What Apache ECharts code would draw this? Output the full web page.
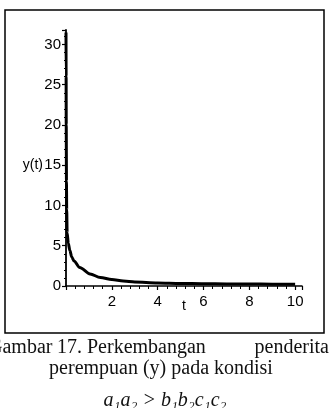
<!DOCTYPE html>
<html>
<head>
<meta charset="utf-8">
<script src="https://cdn.jsdelivr.net/npm/echarts@6/dist/echarts.min.js"></script>
<style>
html,body{margin:0;padding:0;background:#fff;}
#c{width:329px;height:408px;}
</style>
</head>
<body>
<div id="c"></div>
<script>
// Data
var tValues = [0, 0.005, 0.01, 0.02, 0.03, 0.05, 0.1, 0.17, 0.25, 0.35, 0.6, 1.05, 1.5, 2, 2.5, 3, 4, 5, 6, 7, 8, 9, 10];
var yValues = [31.5, 26, 20, 13, 9.5, 6.6, 5.3, 4.4, 3.6, 3.1, 2.3, 1.5, 1.05, 0.8, 0.62, 0.5, 0.38, 0.32, 0.28, 0.26, 0.24, 0.23, 0.22];
var xTicks = [2, 4, 6, 8, 10];
var yTicks = [0, 5, 10, 15, 20, 25, 30];
var xName = 't';
var yName = 'y(t)';
var captionLine1 = ['Gambar', '17.', 'Perkembangan', 'penderita'];
var captionLine2 = 'perempuan (y) pada kondisi';
var captionLine3 = 'a\u2081a\u2082 > b\u2081b\u2082c\u2081c\u2082';

var seriesData = tValues.map(function (t, i) { return [t, yValues[i]]; });

var chart = echarts.init(document.getElementById('c'), null, {renderer: 'canvas'});
var axisFont = {fontFamily: 'Liberation Sans', fontSize: 15, color: '#000'};
var capFont = '20px "Liberation Serif"';
chart.setOption({
  backgroundColor: '#fff',
  animation: false,
  grid: {left: 66, right: 27, top: 30, bottom: 122, containLabel: false},
  xAxis: {
    type: 'value', min: 0, max: 10.3, interval: 2,
    name: xName, nameLocation: 'middle', nameGap: 13, nameMoveOverlap: false,
    nameTextStyle: {fontFamily: 'Liberation Sans', fontSize: 14, color: '#000', verticalAlign: 'top'},
    axisLine: {onZero: false, lineStyle: {color: '#000', width: 1.5}},
    axisTick: {show: true, length: 4, lineStyle: {color: '#000', width: 1.2}},
    minorTick: {show: true, splitNumber: 5, length: 3, lineStyle: {color: '#000', width: 1}},
    axisLabel: Object.assign({margin: 8, formatter: function (v) { return xTicks.indexOf(v) >= 0 ? String(v) : ''; }}, axisFont),
    splitLine: {show: false}
  },
  yAxis: {
    type: 'value', min: 0, max: 31.8, interval: 5,
    name: yName, nameLocation: 'middle', nameGap: 23, nameRotate: 0, nameMoveOverlap: false,
    nameTextStyle: {fontFamily: 'Liberation Sans', fontSize: 14, color: '#000', verticalAlign: 'top'},
    axisLine: {onZero: false, lineStyle: {color: '#000', width: 1.8}},
    axisTick: {show: true, length: 4, lineStyle: {color: '#000', width: 1.2}},
    minorTick: {show: true, splitNumber: 5, length: 2, lineStyle: {color: '#000', width: 1}},
    axisLabel: Object.assign({margin: 5, formatter: function (v) { return yTicks.indexOf(v) >= 0 ? String(v) : ''; }}, axisFont),
    splitLine: {show: false}
  },
  series: [{
    type: 'line',
    data: seriesData,
    showSymbol: false,
    smooth: 0.3,
    smoothMonotone: 'x',
    lineStyle: {color: '#000', width: 3},
    clip: true
  }],
  graphic: [
    {type: 'rect', shape: {x: 5, y: 10, width: 319, height: 323}, style: {fill: 'none', stroke: '#000', lineWidth: 1.5}, z: 100},
    {type: 'text', x: -12, y: 338, style: {text: captionLine1[0], font: capFont, fill: '#111'}},
    {type: 'text', x: 57, y: 338, style: {text: captionLine1[1], font: capFont, fill: '#111'}},
    {type: 'text', x: 87, y: 338, style: {text: captionLine1[2], font: capFont, fill: '#111'}},
    {type: 'text', x: 329, y: 338, style: {text: captionLine1[3], font: capFont, fill: '#111', textAlign: 'right'}},
    {type: 'text', x: 161, y: 359, style: {text: captionLine2, font: capFont, fill: '#111', textAlign: 'center'}},
    {type: 'text', x: 165, y: 391, style: {text: captionLine3, font: 'italic ' + capFont, fill: '#111', textAlign: 'center'}}
  ]
});
</script>
</body>
</html>
